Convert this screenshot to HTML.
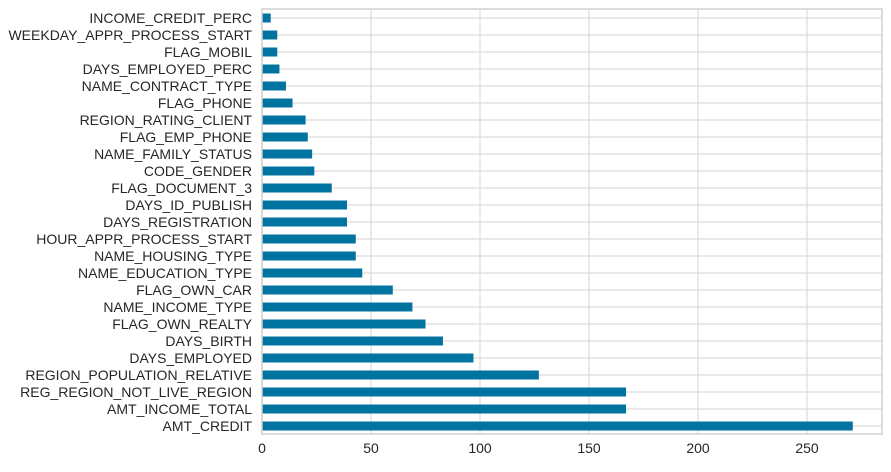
<!DOCTYPE html>
<html><head><meta charset="utf-8"><style>
body{margin:0;background:#fff;width:891px;height:467px;overflow:hidden}
text{font-family:"Liberation Sans",Arial,sans-serif;fill:#262626}
</style></head><body>
<svg id="chart" width="891" height="467" xmlns="http://www.w3.org/2000/svg"></svg>
<script>
const categories=["INCOME_CREDIT_PERC","WEEKDAY_APPR_PROCESS_START","FLAG_MOBIL","DAYS_EMPLOYED_PERC","NAME_CONTRACT_TYPE","FLAG_PHONE","REGION_RATING_CLIENT","FLAG_EMP_PHONE","NAME_FAMILY_STATUS","CODE_GENDER","FLAG_DOCUMENT_3","DAYS_ID_PUBLISH","DAYS_REGISTRATION","HOUR_APPR_PROCESS_START","NAME_HOUSING_TYPE","NAME_EDUCATION_TYPE","FLAG_OWN_CAR","NAME_INCOME_TYPE","FLAG_OWN_REALTY","DAYS_BIRTH","DAYS_EMPLOYED","REGION_POPULATION_RELATIVE","REG_REGION_NOT_LIVE_REGION","AMT_INCOME_TOTAL","AMT_CREDIT"];
const values=[4,7,7,8,11,14,20,21,23,24,32,39,39,43,43,46,60,69,75,83,97,127,167,167,271];
const xTicks=[0,50,100,150,200,250];
const svg=document.getElementById('chart');
const NS='http://www.w3.org/2000/svg';
const L=262,R=882,T=9,B=434,xMax=284.4;
const x=v=>L+(v/xMax)*(R-L);
const step=(426-18)/(categories.length-1);
const y=i=>18+i*step;
function mk(tag,a){const e=document.createElementNS(NS,tag);for(const k in a)e.setAttribute(k,a[k]);svg.appendChild(e);return e;}
xTicks.forEach(t=>{
const g=mk('line',{x1:x(t),x2:x(t),y1:T,y2:B,stroke:'#dcdcdc','stroke-width':1.2});


const tx=mk('text',{x:x(t),y:453,'text-anchor':'middle','font-size':14});
tx.textContent=t;


});
categories.forEach((c,i)=>{
const g=mk('line',{x1:L,x2:R,y1:y(i),y2:y(i),stroke:'#dcdcdc','stroke-width':1.2});


});
categories.forEach((c,i)=>{
const b=mk('rect',{x:L,y:y(i)-4.5,width:x(values[i])-L,height:9,fill:'#0173a1'});


const tx=mk('text',{x:252,y:y(i)+5,'text-anchor':'end','font-size':14});
tx.textContent=c;


});
const f=mk('rect',{x:L,y:T,width:R-L,height:B-T,fill:'none',stroke:'#d0d0d0','stroke-width':1.5});


</script>
</body></html>
